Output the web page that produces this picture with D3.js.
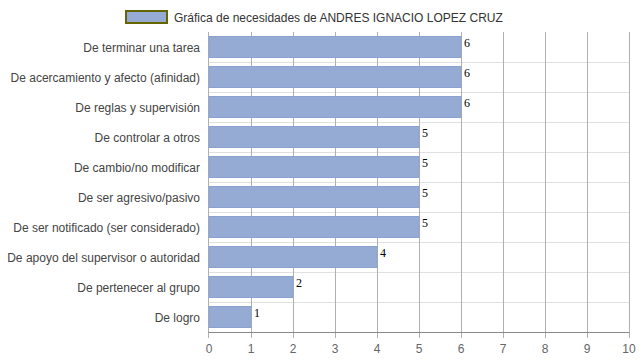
<!DOCTYPE html>
<html><head><meta charset="utf-8">
<script src="https://cdn.jsdelivr.net/npm/d3@7"></script>
<style>body{margin:0;background:#fff}svg{display:block}</style>
</head><body>
<svg id="c" width="639" height="360"></svg>
<script>
const categories = ["De terminar una tarea","De acercamiento y afecto (afinidad)","De reglas y supervisión","De controlar a otros","De cambio/no modificar","De ser agresivo/pasivo","De ser notificado (ser considerado)","De apoyo del supervisor o autoridad","De pertenecer al grupo","De logro"];
const values = [6,6,6,5,5,5,5,4,2,1];
const xTicks = [0,1,2,3,4,5,6,7,8,9,10];
const legendLabel = "Gráfica de necesidades de ANDRES IGNACIO LOPEZ CRUZ";

const svg = d3.select("#c");
const L = 209, R = 629, T = 32, B = 332;
const x = d3.scaleLinear().domain([0,10]).range([L,R]);
const yRow = d3.scaleBand().domain(categories).range([T,B]);

// horizontal row lines
svg.append("g").selectAll("line").data(categories.slice(1)).join("line")
  .attr("x1",L).attr("x2",R)
  .attr("y1",d=>Math.round(yRow(d))+0.5).attr("y2",d=>Math.round(yRow(d))+0.5)
  .attr("stroke","#e0e0e0");
// vertical grid lines
svg.append("g").selectAll("line").data(xTicks.slice(1)).join("line")
  .attr("x1",d=>Math.round(x(d))+0.5).attr("x2",d=>Math.round(x(d))+0.5)
  .attr("y1",T).attr("y2",B+6)
  .attr("stroke","#b0b0b0");
// left axis line
svg.append("line").attr("x1",L-0.5).attr("x2",L-0.5).attr("y1",T).attr("y2",B+6).attr("stroke","#b0b0b0");

// bars
svg.append("g").selectAll("rect").data(values).join("rect")
  .attr("x",L).attr("y",(d,i)=>Math.round(yRow(categories[i]))+4.5)
  .attr("width",d=>x(d)-L).attr("height",21)
  .attr("fill","#95abd4").attr("stroke","#8aa2cf").attr("stroke-width",1);

// bottom axis
svg.append("line").attr("x1",L-0.5).attr("x2",R+0.5).attr("y1",B+0.5).attr("y2",B+0.5).attr("stroke","#888");

// value labels
svg.append("g").selectAll("text").data(values).join("text")
  .attr("x",d=>x(d)+3).attr("y",(d,i)=>Math.round(yRow(categories[i]))+15)
  .attr("font-family","'Liberation Serif','Times New Roman',serif").attr("font-size",12).attr("fill","#000")
  .text(d=>d);

// category labels
svg.append("g").selectAll("text").data(categories).join("text")
  .attr("x",200).attr("y",d=>yRow(d)+yRow.bandwidth()/2+4.5)
  .attr("text-anchor","end")
  .attr("font-family","'Liberation Sans',Arial,sans-serif").attr("font-size",12).attr("fill","#444")
  .text(d=>d);

// x tick labels
svg.append("g").selectAll("text").data(xTicks).join("text")
  .attr("x",d=>x(d)).attr("y",353)
  .attr("text-anchor","middle")
  .attr("font-family","'Liberation Sans',Arial,sans-serif").attr("font-size",12).attr("fill","#666")
  .text(d=>d);

// legend
svg.append("rect").attr("x",126).attr("y",11).attr("width",41).attr("height",12)
  .attr("fill","#95abd4").attr("stroke","#666600").attr("stroke-width",2);
svg.append("text").attr("x",174).attr("y",21.5)
  .attr("font-family","'Liberation Sans',Arial,sans-serif").attr("font-size",12).attr("fill","#333")
  .text(legendLabel);
</script>
</body></html>
